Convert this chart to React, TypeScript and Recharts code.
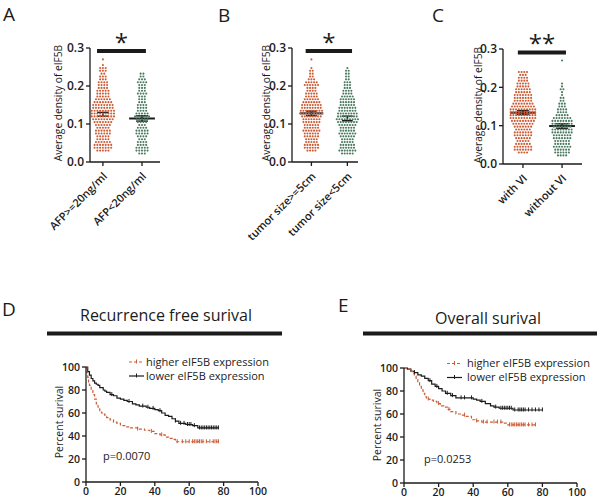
import React from 'react';
import { ScatterChart, Scatter, ComposedChart, Line, XAxis, YAxis, ReferenceLine } from 'recharts';

const ORANGE = '#cd5c36';
const GREEN = '#4b7a60';
const INK = '#1b1b1b';
const FONT = '"Open Sans", "DejaVu Sans", sans-serif';

// dot plots: dots counted per density row (rows start at 0.0225, one every 0.0075)
const LEVEL_START = 0.0225;
const LEVEL_STEP = 0.0075;

const aHighCounts = [0, 5, 7, 7, 6, 5, 5, 6, 6, 5, 6, 7, 8, 9, 9, 9, 8, 8, 7, 6, 5, 5, 5, 4, 4, 4, 3, 3, 2, 3, 3, 1, 0, 1];
const aLowCounts = [3, 5, 5, 4, 4, 3, 4, 5, 5, 4, 3, 4, 5, 6, 5, 4, 4, 4, 3, 3, 3, 4, 3, 3, 3, 4, 3, 2, 2, 0, 0, 0, 0, 0];
const bHighCounts = [0, 4, 6, 6, 5, 5, 6, 6, 7, 6, 6, 7, 7, 8, 9, 9, 8, 8, 7, 6, 5, 5, 4, 4, 6, 5, 3, 2, 2, 2, 1, 0, 0, 1];
const bLowCounts = [5, 7, 6, 6, 5, 5, 6, 7, 6, 6, 7, 8, 9, 8, 8, 7, 7, 6, 6, 6, 5, 4, 4, 3, 3, 3, 2, 2, 2, 2, 1, 0, 0, 0];
const cHighCounts = [0, 4, 7, 7, 6, 5, 6, 7, 7, 6, 7, 8, 9, 10, 10, 10, 10, 9, 8, 7, 7, 7, 6, 6, 5, 5, 4, 4, 3, 4, 0, 0, 0, 0];
const cLowCounts = [4, 6, 6, 7, 6, 6, 7, 7, 8, 8, 7, 8, 8, 7, 5, 4, 4, 3, 3, 2, 2, 1, 1, 2, 1, 1, 0, 0, 0, 0, 0, 0, 0, 1];

const aCategories = ['AFP>=20ng/ml', 'AFP<20ng/ml'];
const bCategories = ['tumor size>=5cm', 'tumor size<5cm'];
const cCategories = ['with VI', 'without VI'];

const aMeans = [0.1255, 0.1145];
const aSems = [0.005, 0.007];
const bMeans = [0.128, 0.1145];
const bSems = [0.006, 0.006];
const cMeans = [0.134, 0.099];
const cSems = [0.005, 0.006];

const densityTicks = [0, 0.1, 0.2, 0.3];

// Kaplan-Meier steps (months, percent)
const dHighTimes = [0, 0.5, 1, 1.5, 2, 3, 4, 5, 6, 7, 8, 9, 10, 11, 12, 14, 16, 18, 20, 23, 26, 30, 34, 37, 40, 43, 46, 48, 50, 52, 77];
const dHighSurv = [100, 95, 91, 87, 84, 80, 76, 72, 68, 65, 62, 60, 59, 57, 56, 54, 52, 51, 49, 48, 47, 46, 45, 44, 42, 41, 39, 38, 37, 35, 35];
const dLowTimes = [0, 1, 2, 3, 4, 5, 6, 7, 8, 10, 11, 12, 14, 16, 18, 20, 22, 24, 27, 29, 31, 35, 37, 40, 42, 44, 46, 48, 50, 52, 54, 58, 62, 65, 77];
const dLowSurv = [100, 96, 93, 90, 88, 86, 85, 84, 82, 80, 79, 78, 76, 75, 73, 72, 71, 70, 68, 67, 66, 65, 64, 63, 62, 60, 58, 57, 55, 53, 51, 50, 49, 47, 47];
const dHighCensor = [30, 38, 44, 53, 56, 58, 60, 62, 63, 64, 65, 66, 67, 68, 70, 72, 74, 75, 76, 77];
const dLowCensor = [15, 25, 33, 36, 39, 43, 52, 55, 57, 59, 60, 61, 63, 66, 67, 68, 69, 70, 71, 72, 73, 74, 75, 76, 77];

const eHighTimes = [0, 2, 4, 5, 6, 7, 8, 9, 10, 11, 12, 13, 15, 17, 19, 21, 23, 25, 27, 30, 33, 36, 38, 39, 41, 45, 50, 57, 60, 76];
const eHighSurv = [100, 99, 97, 95, 93, 90, 87, 84, 81, 78, 75, 73, 72, 71, 69, 67, 66, 64, 62, 60, 59, 58, 58, 55, 54, 53, 53, 52, 50.5, 50.5];
const eLowTimes = [0, 2, 4, 6, 8, 10, 12, 14, 16, 18, 20, 22, 24, 27, 30, 38, 40, 42, 44, 47, 50, 52, 55, 63, 80];
const eLowSurv = [100, 99, 97, 96, 94, 93, 91, 89, 86, 84, 82, 80, 78, 76, 74, 74, 73, 72, 71, 69, 67, 66, 65, 63.5, 63.5];
const eHighCensor = [14, 20, 26, 35, 42, 46, 48, 52, 54, 56, 61, 62, 63, 64, 65, 66, 67, 68, 69, 70, 72, 74, 76];
const eLowCensor = [6, 15, 19, 25, 28, 33, 35, 39, 45, 53, 56, 57, 58, 59, 60, 61, 62, 64, 66, 67, 68, 69, 70, 72, 74, 76, 78, 80];

const survivalTicks = [0, 20, 40, 60, 80, 100];

const buildSwarm = (counts: number[], center: number, gap: number) => {
  const pts: { x: number; y: number }[] = [];
  counts.forEach((n, i) => {
    for (let k = 0; k < n; k++) {
      pts.push({ x: center + (k - (n - 1) / 2) * gap, y: LEVEL_START + LEVEL_STEP * i });
    }
  });
  return pts;
};

const survAt = (times: number[], surv: number[], t: number) => {
  let v = surv[0];
  times.forEach((tt, i) => {
    if (tt <= t) v = surv[i];
  });
  return v;
};

const Dot = (p: any) => <circle cx={p.cx} cy={p.cy} r={1.05} fill={p.fill} />;
const CensorTick = (p: any) => (
  <line x1={p.cx} x2={p.cx} y1={p.cy - 2.5} y2={p.cy + 1.5} stroke={p.fill} strokeWidth={1} />
);

const axisText = { fontSize: 12, fill: INK, fontFamily: FONT, fontWeight: 600 };

// rotated category label, anchored at its right end just below the axis tick
const makeCatTick = (cats: string[]) => (p: any) => (
  <g transform={`translate(${p.x + 5},${p.y + 9})`}>
    <text transform="rotate(-45)" textAnchor="end" fontSize={11} fontWeight={600} fill={INK} fontFamily={FONT}>
      {cats[p.payload.value - 1]}
    </text>
  </g>
);

interface DotPlotCfg {
  left: number;
  width: number;
  top: number;
  bottom: number;
  right: number;
  yWidth: number;
  domain: [number, number];
  gap: number;
  high: number[];
  low: number[];
  means: number[];
  sems: number[];
  cats: string[];
  bar: [number, number];
  barY: number;
  stars: string;
}

const DotPlot: React.FC<{ cfg: DotPlotCfg }> = ({ cfg }) => {
  const high = buildSwarm(cfg.high, 1, cfg.gap);
  const low = buildSwarm(cfg.low, 2, cfg.gap);
  return (
    <div style={{ position: 'absolute', left: cfg.left, top: 0 }}>
      <ScatterChart
        width={cfg.width}
        height={260}
        margin={{ top: cfg.top, right: cfg.right, bottom: cfg.bottom, left: 0 }}
      >
        <XAxis
          type="number"
          dataKey="x"
          domain={cfg.domain}
          ticks={[1, 2]}
          interval={0}
          height={60}
          tickSize={4}
          axisLine={{ stroke: INK, strokeWidth: 1.3 }}
          tickLine={{ stroke: INK, strokeWidth: 1.3 }}
          tick={makeCatTick(cfg.cats)}
        />
        <YAxis
          type="number"
          dataKey="y"
          domain={[0, 0.3]}
          ticks={densityTicks}
          tickFormatter={(v) => v.toFixed(1)}
          width={cfg.yWidth}
          tickSize={4}
          axisLine={{ stroke: INK, strokeWidth: 1.3 }}
          tickLine={{ stroke: INK, strokeWidth: 1.3 }}
          tick={axisText}
        />
        <Scatter data={high} fill={ORANGE} shape={Dot} isAnimationActive={false} />
        <Scatter data={low} fill={GREEN} shape={Dot} isAnimationActive={false} />
        {cfg.means.map((m, i) => {
          const c = i + 1;
          const s = cfg.sems[i];
          return (
            <React.Fragment key={i}>
              <ReferenceLine segment={[{ x: c - 0.33, y: m }, { x: c + 0.33, y: m }]} stroke={INK} strokeWidth={2} />
              <ReferenceLine segment={[{ x: c, y: m - s }, { x: c, y: m + s }]} stroke={INK} strokeWidth={1.5} />
              <ReferenceLine segment={[{ x: c - 0.15, y: m - s }, { x: c + 0.15, y: m - s }]} stroke={INK} strokeWidth={1.5} />
              <ReferenceLine segment={[{ x: c - 0.15, y: m + s }, { x: c + 0.15, y: m + s }]} stroke={INK} strokeWidth={1.5} />
            </React.Fragment>
          );
        })}
        <ReferenceLine
          segment={[{ x: cfg.bar[0], y: cfg.barY }, { x: cfg.bar[1], y: cfg.barY }]}
          stroke={INK}
          strokeWidth={4}
          ifOverflow="visible"
          label={{ value: cfg.stars, position: 'top', offset: 0, fontSize: 24, fill: INK, fontFamily: FONT }}
        />
      </ScatterChart>
    </div>
  );
};

interface KmCfg {
  left: number;
  top: number;
  bottom: number;
  right: number;
  yWidth: number;
  highT: number[];
  highS: number[];
  lowT: number[];
  lowS: number[];
  highCensor: number[];
  lowCensor: number[];
}

const KmPlot: React.FC<{ cfg: KmCfg }> = ({ cfg }) => {
  const high = cfg.highT.map((t, i) => ({ t, s: cfg.highS[i] }));
  const low = cfg.lowT.map((t, i) => ({ t, s: cfg.lowS[i] }));
  const highTicks = cfg.highCensor.map((t) => ({ t, s: survAt(cfg.highT, cfg.highS, t) }));
  const lowTicks = cfg.lowCensor.map((t) => ({ t, s: survAt(cfg.lowT, cfg.lowS, t) }));
  const kmText = { fontSize: 10.5, fill: INK, fontFamily: FONT, fontWeight: 600 };
  return (
    <div style={{ position: 'absolute', left: cfg.left, top: 280 }}>
      <ComposedChart
        width={300}
        height={224}
        margin={{ top: cfg.top, right: cfg.right, bottom: cfg.bottom, left: 0 }}
      >
        <XAxis
          type="number"
          dataKey="t"
          domain={[0, 100]}
          ticks={survivalTicks}
          interval={0}
          height={20}
          tickSize={4}
          axisLine={{ stroke: INK, strokeWidth: 1.3 }}
          tickLine={{ stroke: INK, strokeWidth: 1.3 }}
          tick={kmText}
        />
        <YAxis
          type="number"
          dataKey="s"
          domain={[0, 100]}
          ticks={survivalTicks}
          width={cfg.yWidth}
          tickSize={4}
          axisLine={{ stroke: INK, strokeWidth: 1.3 }}
          tickLine={{ stroke: INK, strokeWidth: 1.3 }}
          tick={kmText}
        />
        <Line data={low} dataKey="s" type="stepAfter" stroke={INK} strokeWidth={1.2} dot={false} isAnimationActive={false} />
        <Line
          data={high}
          dataKey="s"
          type="stepAfter"
          stroke={ORANGE}
          strokeWidth={1.2}
          strokeDasharray="3 2"
          dot={false}
          isAnimationActive={false}
        />
        <Scatter data={lowTicks} fill={INK} shape={CensorTick} isAnimationActive={false} />
        <Scatter data={highTicks} fill={ORANGE} shape={CensorTick} isAnimationActive={false} />
      </ComposedChart>
    </div>
  );
};

const LegendRow = ({ x, y, textX, color, dashed, text }: any) => (
  <g>
    <line x1={x} x2={x + 15} y1={y - 3.5} y2={y - 3.5} stroke={color} strokeWidth={1.2} strokeDasharray={dashed ? '3 2' : undefined} />
    <line x1={x + 7.5} x2={x + 7.5} y1={y - 6} y2={y - 2} stroke={color} strokeWidth={1} />
    <text x={textX} y={y} fontSize={11} fill={INK} fontFamily={FONT}>
      {text}
    </text>
  </g>
);

// rotated axis title; x is the baseline, y the vertical centre
const AxisTitle = ({ x, y, text, size }: any) => (
  <text x={x} y={y} transform={`rotate(-90 ${x} ${y})`} textAnchor="middle" fontSize={size} fill={INK} fontFamily={FONT}>
    {text}
  </text>
);

export default function App() {
  return (
    <div style={{ position: 'absolute', left: 0, top: 0, width: 600, height: 504, background: '#fff', fontFamily: FONT }}>
      <DotPlot
        cfg={{
          left: 0, width: 200, top: 48, bottom: 38, right: 40, yWidth: 90,
          domain: [0.67, 2.46], gap: 0.071, high: aHighCounts, low: aLowCounts,
          means: aMeans, sems: aSems, cats: aCategories, bar: [0.85, 2.1], barY: 0.292, stars: '*',
        }}
      />
      <DotPlot
        cfg={{
          left: 195, width: 200, top: 48, bottom: 38, right: 37, yWidth: 97,
          domain: [0.46, 2.24], gap: 0.074, high: bHighCounts, low: bLowCounts,
          means: bMeans, sems: bSems, cats: bCategories, bar: [0.84, 2.13], barY: 0.292, stars: '*',
        }}
      />
      <DotPlot
        cfg={{
          left: 390, width: 210, top: 49, bottom: 36, right: 18, yWidth: 113,
          domain: [0.49, 2.51], gap: 0.07, high: cHighCounts, low: cLowCounts,
          means: cMeans, sems: cSems, cats: cCategories, bar: [0.87, 2.1], barY: 0.291, stars: '**',
        }}
      />
      <KmPlot
        cfg={{
          left: 0, top: 87, bottom: 2, right: 42, yWidth: 86,
          highT: dHighTimes, highS: dHighSurv, lowT: dLowTimes, lowS: dLowSurv,
          highCensor: dHighCensor, lowCensor: dLowCensor,
        }}
      />
      <KmPlot
        cfg={{
          left: 300, top: 88, bottom: 1, right: 23, yWidth: 104,
          highT: eHighTimes, highS: eHighSurv, lowT: eLowTimes, lowS: eLowSurv,
          highCensor: eHighCensor, lowCensor: eLowCensor,
        }}
      />
      <svg width={600} height={504} style={{ position: 'absolute', left: 0, top: 0, pointerEvents: 'none' }}>
        <g fontFamily={FONT} fill={INK} fontSize={19}>
          <text x={3} y={21}>A</text>
          <text x={218} y={22}>B</text>
          <text x={432} y={22}>C</text>
          <text x={2} y={316}>D</text>
          <text x={338} y={312}>E</text>
        </g>
        <AxisTitle x={62} y={103} size={10.2} text="Average density of eIF5B" />
        <AxisTitle x={270} y={103} size={10.2} text="Average density of eIF5B" />
        <AxisTitle x={482} y={105} size={10.2} text="Average density of eIF5B" />
        <AxisTitle x={63} y={422} size={10.5} text="Percent surival" />
        <AxisTitle x={381} y={425} size={10.5} text="Percent surival" />
        <text x={166} y={321} textAnchor="middle" fontSize={16} fill={INK} fontFamily={FONT}>
          Recurrence free surival
        </text>
        <text x={488} y={324} textAnchor="middle" fontSize={16} fill={INK} fontFamily={FONT}>
          Overall surival
        </text>
        <rect x={47} y={331.5} width={235} height={4} fill={INK} />
        <rect x={363} y={331.5} width={234} height={4} fill={INK} />
        <LegendRow x={129} y={365.5} textX={146} color={ORANGE} dashed text="higher eIF5B expression" />
        <LegendRow x={129} y={379.5} textX={146} color={INK} text="lower eIF5B expression" />
        <LegendRow x={447} y={367} textX={467} color={ORANGE} dashed text="higher eIF5B expression" />
        <LegendRow x={447} y={381} textX={467} color={INK} text="lower eIF5B expression" />
        <text x={103} y={460} fontSize={11} fill={INK} fontFamily={FONT}>p=0.0070</text>
        <text x={424} y={463} fontSize={11} fill={INK} fontFamily={FONT}>p=0.0253</text>
      </svg>
    </div>
  );
}
